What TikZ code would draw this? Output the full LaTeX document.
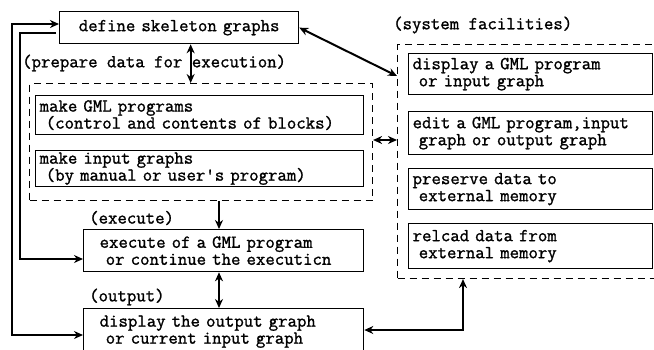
\documentclass[tikz,border=0pt]{standalone}
\usepackage{fontspec}
\newfontfamily\typer{Latin Modern Mono}[FakeBold=1.2]
\usetikzlibrary{arrows.meta,positioning,calc}

\begin{document}
\begin{tikzpicture}[x=1pt, y=-1pt, >={Stealth[length=9pt,width=8pt]},
  every node/.style={font=\typer\fontsize{18.3}{17}\selectfont},
  unit/.style={draw, line width=1.3pt, anchor=north west, align=left, inner xsep=4pt, inner ysep=0pt},
  wide/.style={inner xsep=16pt, text width=248pt},
  frame/.style={draw, dash pattern=on 7pt off 5pt, line width=1.1pt, anchor=north west, inner sep=0pt},
  tag/.style={anchor=west, inner sep=0pt},
  link/.style={line width=2pt}]
  \useasboundingbox (0,0) rectangle (654,349);
  % dashed groups
  \node[frame, minimum width=343pt, minimum height=117pt] (prep) at (29,83) {};
  \node[frame, minimum width=262pt, minimum height=234pt] (sys) at (397,44) {};
  % group titles
  \node[tag] (prepTag) at (22,63) {(prepare data for execution)};
  \node[tag] (sysTag) at (393,25) {(system facilities)};
  \node[tag] (execTag) at (89,218) {(execute)};
  \node[tag] (outTag) at (89,297) {(output)};
  % main column
  \node[unit, minimum width=239pt, minimum height=32pt, text width=231pt, align=center] (skel) at (59,11) {define skeleton graphs};
  \node[unit, minimum height=39pt, text width=320pt] (gml) at (35,95) {make GML programs\\~(control and contents of blocks)};
  \node[unit, minimum height=36pt, text width=320pt] (inp) at (35,150) {make input graphs\\~(by manual or user's program)};
  \node[unit, wide, minimum height=42pt] (exec) at (83,229) {execute of a GML program\\~or continue the executicn};
  \node[unit, wide, minimum height=46pt] (disp) at (83,308) {display the output graph\\~or current input graph};
  % system facilities
  \node[unit, minimum height=41pt, text width=236pt] (show) at (408,53) {display a GML program\\~or input graph};
  \node[unit, minimum height=43pt, text width=236pt] (edit) at (408,111) {edit a GML program,input\\~graph or output graph};
  \node[unit, minimum height=41pt, text width=236pt] (save) at (408,168) {preserve data to\\~external memory};
  \node[unit, minimum height=45pt, text width=236pt] (load) at (408,223) {relcad data from\\~external memory};
  % connectors
  \draw[link, <->] ([xshift=11.5pt]skel.south) -- ([xshift=11.5pt]skel.south |- prep.north);
  \draw[link, <->] (skel.east) -- ([yshift=-32pt]sys.north west);
  \draw[link, <->] (prep.east |- 0,140) -- (sys.west |- 0,140);
  \draw[link, ->] (prep.south -| 219,0) -- (exec.north -| 219,0);
  \draw[link, <->] (exec.south -| 219,0) -- (disp.north -| 219,0);
  \draw[link, <->] (sys.south -| 463,0) |- (disp.east |- 0,330);
  \draw[link, <->] (skel.west |- 0,24) -- (12,24) -- (12,335) -- (disp.west |- 0,335);
  \draw[link, line width=2.4pt, ->, shorten <=3pt] (skel.west |- 0,33) -- (20,33) -- (20,259) -- (exec.west |- 0,259);
\end{tikzpicture}
\end{document}
